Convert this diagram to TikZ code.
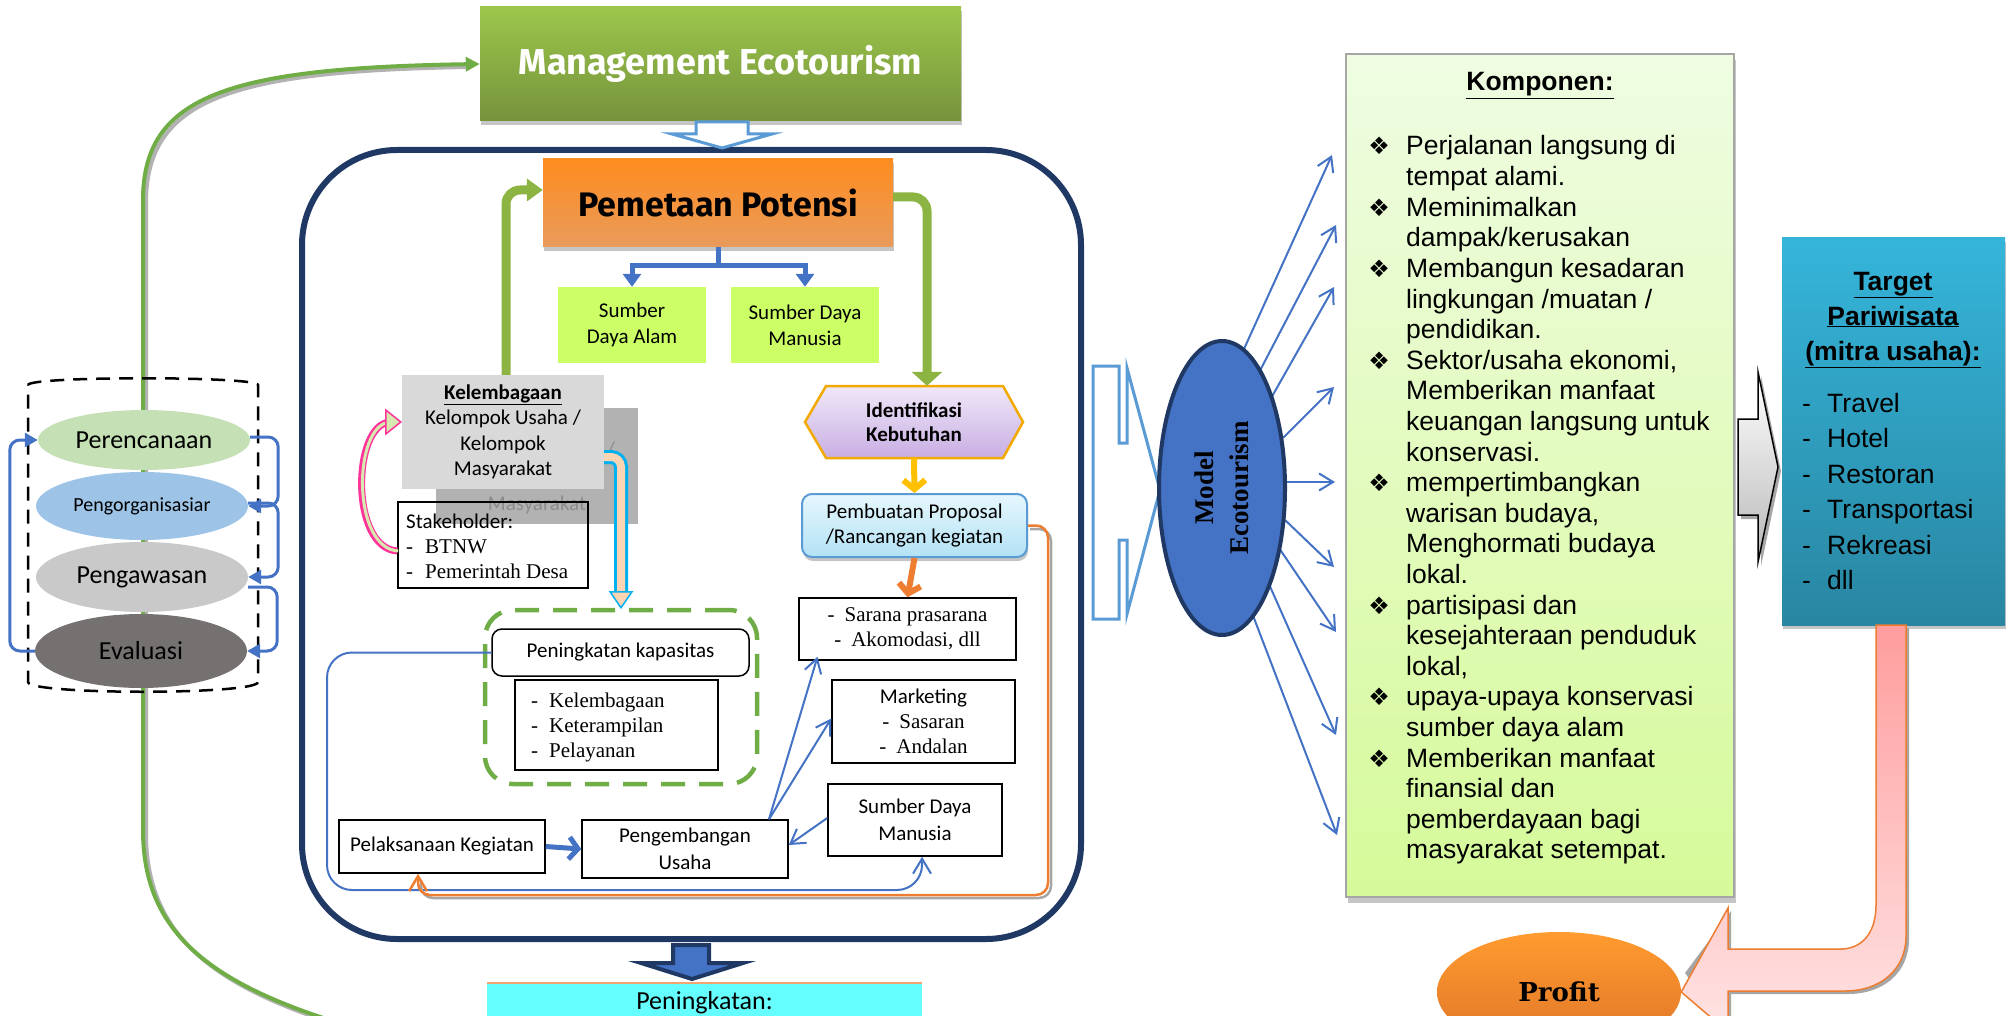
\documentclass[tikz,border=0pt]{standalone}
\usepackage{fontspec}
\setmainfont{Liberation Serif}
\newfontfamily\fcal{Carlito}
\newfontfamily\fari{Liberation Sans}
\newfontfamily\ftms{Liberation Serif}
\newfontfamily\ffira{Fira Sans}
\newfontfamily\fdvs{DejaVu Sans}
\newfontfamily\fdvsr{DejaVu Serif}
\usetikzlibrary{arrows.meta,shadows,shapes.geometric,calc}
\newcommand\fsz[2]{\fontsize{#1}{#2}\selectfont}
\definecolor{navy}{HTML}{1F3864}
\definecolor{cblue}{HTML}{4472C4}
\definecolor{lblue}{HTML}{5B9BD5}
\definecolor{cgreen}{HTML}{70AD47}
\definecolor{gleaf}{HTML}{8CB443}
\definecolor{corange}{HTML}{ED7D31}
\definecolor{cgold}{HTML}{FFC000}
\definecolor{hexline}{HTML}{F2A900}
\definecolor{cyel}{HTML}{CCFF66}
\definecolor{cpink}{HTML}{FF3399}
\definecolor{leafl}{HTML}{D7E8B0}
\definecolor{cyanb}{HTML}{00B0F0}
\definecolor{peach}{HTML}{FBD4B4}
\definecolor{ccyan}{HTML}{66FFFF}
\definecolor{mgT}{HTML}{9CC64B}
\definecolor{mgB}{HTML}{76933C}
\definecolor{pmT}{HTML}{FF8C1F}
\definecolor{pmB}{HTML}{E89B5C}
\definecolor{hxT}{HTML}{F0E8F8}
\definecolor{hxB}{HTML}{C8AEE3}
\definecolor{prT}{HTML}{E6F7FD}
\definecolor{prB}{HTML}{B3E2F5}
\definecolor{kpT}{HTML}{EFFCE2}
\definecolor{kpB}{HTML}{D6FA9A}
\definecolor{tgT}{HTML}{35B5DA}
\definecolor{tgB}{HTML}{2986A2}
\definecolor{pkT}{HTML}{FF9D9D}
\definecolor{pkB}{HTML}{FFE3E3}
\definecolor{pfT}{HTML}{FF9B2F}
\definecolor{pfB}{HTML}{DE7428}
\definecolor{cper}{HTML}{C5E0B4}
\definecolor{corg}{HTML}{9DC3E6}
\definecolor{cpaw}{HTML}{C9C9C9}
\definecolor{ceva}{HTML}{767171}
\tikzset{
  pbox/.style={draw=black, line width=1.5pt, fill=white, inner sep=0pt, align=center},
  cell/.style={ellipse, inner sep=0pt, minimum width=212pt},
  conn/.style={cblue, line width=2pt, -{Straight Barb[length=14pt,width=17pt]}},
  cyc/.style={cblue, line width=3pt, rounded corners=10pt, -{Triangle[length=13pt,width=14pt]}},
  kt/.style={font=\fari\fsz{26.5}{30.6}, anchor=base west, inner sep=0pt},
  kbul/.style={font=\fdvs\fsz{24}{30}, anchor=base, inner sep=0pt},
  tl/.style={font=\fari\fsz{26.5}{35}, anchor=base west, inner sep=0pt},
  tt/.style={font=\fari\bfseries\fsz{26.5}{35}, anchor=base, inner sep=0pt},
  shad/.style={drop shadow={shadow xshift=1pt, shadow yshift=-4pt, fill=black!45}},
}
\newcommand\kl[2]{\node[kt] (k#1) at (1406,{155+30.6*(#1-1)}) {#2};}
\newcommand\kb[1]{\node[kbul] (b#1) at (1379,{155+30.6*(#1-1)}) {❖};}
\begin{document}
\begin{tikzpicture}[x=1pt,y=-1pt]
\useasboundingbox (0,0) rectangle (2009,1016);
\clip (0,0) rectangle (2009,1016);

% big rounded frame
\node[draw=navy, line width=6pt, rounded corners=95pt, minimum width=779pt, minimum height=789pt] (big) at (691.5,544.5) {};

% management
\node[minimum width=481pt, minimum height=114pt, top color=mgT, bottom color=mgB, shad,
      font=\ffira\bfseries\fsz{36}{40}, text=white] (mgmt) at (720.5,64) {Management Ecotourism};
\draw[lblue, line width=3pt, fill=white] (696,122) -- (748,122) -- (748,134) -- (772,134) -- (722,148) -- (672,134) -- (696,134) -- cycle;

% peningkatan box at bottom
\node[fill=ccyan, minimum width=435pt, minimum height=77pt, anchor=north] (pening) at (704.5,983) {};
\draw[corange!70, line width=2.5pt] (pening.north west) -- (pening.north east);
\node[font=\fcal\fsz{26}{30}, anchor=base] (peningt) at (704.5,1009) {Peningkatan:};
\filldraw[fill=cblue, draw=navy, line width=4pt] (673,945) -- (709,945) -- (709,963) -- (743,963) -- (692,979) -- (641,963) -- (673,963) -- cycle;

% green loop on the left
\coordinate (gend) at (487,1060);
\draw[black!30, line width=4pt] (490,1063) .. controls (253,1013) and (146,963) .. (146,833) -- (146,203) .. controls (146,98) and (233,71) .. (468,67);
\draw[cgreen, line width=4pt, -{Triangle[length=14pt,width=14pt]}] (gend) .. controls (250,1010) and (143,960) .. (143,830) -- (143,200) .. controls (143,95) and (230,68) .. (mgmt.west);

% cylinder
\draw[black, line width=2.5pt, dash pattern=on 14pt off 9pt] (28,385) .. controls (28,376) and (258,376) .. (258,385) -- (258,682) .. controls (258,695) and (28,695) .. (28,682) -- cycle;
\node[cell, fill=cper, minimum height=60pt, font=\fcal\fsz{26}{30}] (per) at (144,440) {Perencanaan};
\node[cell, fill=corg, minimum height=68pt, font=\fcal\fsz{20}{24}] (org) at (142,506) {Pengorganisasiar};
\node[cell, fill=cpaw, minimum height=70pt, font=\fcal\fsz{26}{30}] (paw) at (142,577) {Pengawasan};
\node[cell, fill=ceva, minimum height=74pt, font=\fcal\fsz{26}{30}] (eva) at (141,651) {Evaluasi};
\draw[cyc] ([shift={(0,-3)}]per.east) -- ++(28,0) |- (org.east);
\draw[cyc] ([shift={(0,-3)}]org.east) -- ++(30,0) |- (paw.east);
\draw[cyc] ([shift={(0,10)}]paw.east) -- ++(29,0) |- (eva.east);
\draw[cyc] (eva.west) -- ++(-25,0) |- (per.west);

% pemetaan
\node[minimum width=350pt, minimum height=88pt, top color=pmT, bottom color=pmB, shad,
      font=\ffira\bfseries\fsz{34}{38}] (pem) at (718,203) {Pemetaan Potensi};
\node[fill=cyel, minimum width=148pt, minimum height=76pt, align=center, font=\fcal\fsz{21}{26}] (sda) at (632,325) {Sumber\\Daya Alam};
\node[fill=cyel, minimum width=148pt, minimum height=76pt, align=center, font=\fcal\fsz{21}{26}] (sdm1) at (805,325) {Sumber Daya\\Manusia};
\draw[cblue, line width=5pt] (pem.south) -- ++(0,18) coordinate (br);
\draw[cblue, line width=5pt, -{Triangle[length=13pt,width=18pt]}] (br) -| (sda.north);
\draw[cblue, line width=5pt, -{Triangle[length=13pt,width=18pt]}] (br) -| (sdm1.north);

% kelembagaan group
\node[fill=black!30, minimum width=202pt, minimum height=116pt] (ghost) at (537,466) {};
\node[text=black!45, font=\fcal\fsz{21}{25}] (ghostt) at (537,505) {Masyarakat};
\node[text=black!45, font=\fcal\fsz{21}{25}] (ghosts) at (611,450) {/};
\node[fill=black!15, minimum width=202pt, minimum height=114pt, align=center, font=\fcal\fsz{21}{25.5}] (kel) at (503,432)
  {\underline{\textbf{Kelembagaan}}\\Kelompok Usaha /\\Kelompok\\Masyarakat};
\node[draw=black, line width=1.5pt, inner sep=0pt, minimum width=190pt, minimum height=86pt] (stk) at (493,545) {};
\node[anchor=west, align=left, inner sep=0pt, font=\ftms\fsz{21}{25}] (stkt) at (406,546)
  {{\fcal Stakeholder:}\\-\hspace{12pt}BTNW\\-\hspace{12pt}Pemerintah Desa};
\draw[cpink, line width=7pt] ([shift={(0,6)}]stk.west) .. controls (350,548) and (352,425) .. ([shift={(-12,-10)}]kel.west);
\draw[leafl, line width=3pt] ([shift={(1,6)}]stk.west) .. controls (351,548) and (353,425) .. ([shift={(-12,-10)}]kel.west);
\filldraw[fill=leafl, draw=cpink, line width=1.5pt] ([shift={(-16,-22)}]kel.west) -- ([shift={(-1,-10)}]kel.west) -- ([shift={(-16,2)}]kel.west) -- cycle;

% dashed capacity group
\node[draw=cgreen, line width=4.5pt, dash pattern=on 24pt off 14pt, rounded corners=28pt, minimum width=272pt, minimum height=174pt] (dbox) at (621,697) {};
\node[pbox, rounded corners=10pt, minimum width=257pt, minimum height=47pt, font=\fcal\fsz{21}{25}] (kap) at (620.5,652.5) {Peningkatan kapasitas};
\node[pbox, minimum width=203pt, minimum height=90pt] (klist) at (616.5,725) {};
\node[anchor=west, align=left, inner sep=0pt, font=\ftms\fsz{21}{25}] (klistt) at (531,727) {-\hspace{11pt}Kelembagaan\\-\hspace{11pt}Keterampilan\\-\hspace{11pt}Pelayanan};

% peach arrow
\draw[cyanb, line width=14pt, rounded corners=10pt] ([shift={(0,25)}]kel.east) -| ([shift={(0,-14)}]dbox.north);
\draw[peach, line width=8pt, rounded corners=10pt] ([shift={(0,25)}]kel.east) -| ([shift={(0,-14)}]dbox.north);
\filldraw[fill=peach, draw=cyanb, line width=1.5pt] ([shift={(-11,-16)}]dbox.north) -- ([shift={(11,-16)}]dbox.north) -- (dbox.north) -- cycle;

% right column inside frame
\shadedraw[top color=hxT, bottom color=hxB, draw=hexline, line width=2.5pt] (805,422) -- (826,386) -- (1003,386) -- (1023,422) -- (1003,458) -- (826,458) -- cycle;
\node[minimum width=218pt, minimum height=72pt, align=center, font=\fcal\bfseries\fsz{21}{24}] (idk) at (914,422) {Identifikasi\\Kebutuhan};
\node[draw=lblue, line width=2pt, rounded corners=10pt, top color=prT, bottom color=prB, shad, minimum width=225pt, minimum height=63pt, align=center, font=\fcal\fsz{21}{25}] (prop) at (914.5,525.5) {Pembuatan Proposal\\/Rancangan kegiatan};
\node[pbox, minimum width=217pt, minimum height=62pt, font=\ftms\fsz{21}{25}] (sar) at (907.5,629) {-\hspace{10pt}Sarana prasarana\\-\hspace{10pt}Akomodasi, dll};
\node[pbox, minimum width=183pt, minimum height=83pt, font=\ftms\fsz{21}{25}] (mkt) at (923.5,721.5) {{\fcal Marketing}\\-\hspace{10pt}Sasaran\\-\hspace{10pt}Andalan};
\node[pbox, minimum width=174pt, minimum height=72pt, font=\fcal\fsz{21}{26.5}] (sdm2) at (915,820) {Sumber Daya\\Manusia};
\node[pbox, minimum width=206pt, minimum height=58pt, font=\fcal\fsz{21}{26.5}] (peng) at (685,849) {Pengembangan\\Usaha};
\node[pbox, minimum width=206pt, minimum height=53pt, font=\fcal\fsz{21}{25}] (pel) at (442,846.5) {Pelaksanaan Kegiatan};

\draw[cgold, line width=6pt, -{Straight Barb[length=9pt,width=22pt]}] (idk.south) -- (prop.north);
\draw[corange, line width=6pt, -{Straight Barb[length=9pt,width=22pt]}] (prop.south) -- (sar.north);
\draw[cblue, line width=5pt, -{Straight Barb[length=9pt,width=22pt]}] (pel.east) -- (peng.west);
\draw[conn] ([shift={(0,-2)}]sdm2.west) -- ([shift={(0,-4)}]peng.east);
\draw[conn] ([shift={(84,0)}]peng.north) -- ([shift={(-90,-4)}]sar.south);
\draw[conn] ([shift={(84,0)}]peng.north) -- ([shift={(0,-3)}]mkt.west);

% green arrows around pemetaan
\draw[gleaf, line width=9pt, rounded corners=14pt, -{Triangle[length=16pt,width=22pt]}] ([shift={(3,0)}]kel.north) |- ([shift={(0,-13)}]pem.west);
\draw[gleaf, line width=9pt, rounded corners=14pt, -{Triangle[length=14pt,width=30pt]}] ([shift={(0,-6)}]pem.east) -| ([shift={(13,0)}]idk.north);

% loops
\draw[cblue, line width=2pt, rounded corners=25pt, -{Straight Barb[length=15pt,width=18pt]}] (kap.west) -| (327,890) -| ([shift={(7,0)}]sdm2.south);
\draw[black!35, line width=2.5pt, rounded corners=12pt] (1030,529) -- (1051,529) -- (1051,898) -- (421,898) -- (421,880);
\draw[corange, line width=2.5pt, rounded corners=12pt, -{Straight Barb[length=15pt,width=18pt]}] (prop.east) -| (1048,895) -| ([shift={(-24,0)}]pel.south);

% Komponen
\node[draw=black!35, line width=2pt, top color=kpT, bottom color=kpB, minimum width=388pt, minimum height=843pt,
      drop shadow={shadow xshift=2pt, shadow yshift=-6pt, fill=black!45}] (komp) at (1540,475.5) {};
\node[font=\fari\bfseries\fsz{26.5}{30}, anchor=base, inner sep=0pt] (ktitle) at (1540,91) {\underline{Komponen:}};
\kb{1}\kl{1}{Perjalanan langsung di}
\kl{2}{tempat alami.}
\kb{3}\kl{3}{Meminimalkan}
\kl{4}{dampak/kerusakan}
\kb{5}\kl{5}{Membangun kesadaran}
\kl{6}{lingkungan /muatan /}
\kl{7}{pendidikan.}
\kb{8}\kl{8}{Sektor/usaha ekonomi,}
\kl{9}{Memberikan manfaat}
\kl{10}{keuangan langsung untuk}
\kl{11}{konservasi.}
\kb{12}\kl{12}{mempertimbangkan}
\kl{13}{warisan budaya,}
\kl{14}{Menghormati budaya}
\kl{15}{lokal.}
\kb{16}\kl{16}{partisipasi dan}
\kl{17}{kesejahteraan penduduk}
\kl{18}{lokal,}
\kb{19}\kl{19}{upaya-upaya konservasi}
\kl{20}{sumber daya alam}
\kb{21}\kl{21}{Memberikan manfaat}
\kl{22}{finansial dan}
\kl{23}{pemberdayaan bagi}
\kl{24}{masyarakat setempat.}

% light-blue notched arrow and model ellipse
\filldraw[fill=white, draw=lblue, line width=3pt, line join=miter] (1093,366) -- (1119,366) -- (1119,443) -- (1127,443) -- (1127,368) -- (1160,490) -- (1127,614) -- (1127,540) -- (1119,540) -- (1119,619) -- (1093,619) -- cycle;
\coordinate (mc) at (1222,488);
\foreach \sx/\sy/\tx/\ty in {17/-128/-13/-320.5, 32/-106/-9/-250.5, 48/-88/-11/-188.5, 61/-50/-11/-88.5, 63/-6/-10/6.5, 63/32/-11/91.5, 57/60/-9/156.5, 46/94/-9/259.5, 30/125/-8/359.5}
  \draw[conn] ([shift={(\sx,\sy)}]mc) -- ([shift={(\tx,\ty)}]komp.west);
\node[ellipse, draw=navy, line width=4pt, fill=cblue, minimum width=294pt, minimum height=126pt, inner sep=0pt, rotate=90, align=center, font=\ftms\bfseries\fsz{27}{35}] (model) at (mc) {Model\\Ecotourism};

% grey arrow and target
\fill[black!35] (1741,423) -- (1761,423) -- (1761,376) -- (1781,471) -- (1761,566) -- (1761,519) -- (1741,519) -- cycle;
\shadedraw[top color=white, bottom color=black!28, draw=black, line width=1.5pt] (1738,419) -- (1758,419) -- (1758,372) -- (1778,467) -- (1758,562) -- (1758,515) -- (1738,515) -- cycle;
\node[top color=tgT, bottom color=tgB, minimum width=223pt, minimum height=387pt, shad] (tgt) at (1893.5,431.5) {};
\node[tt] (tg1) at (1893,290) {\underline{Target}};
\node[tt] (tg2) at (1893,325) {\underline{Pariwisata}};
\node[tt] (tg3) at (1893,360) {\underline{(mitra usaha):}};
\node[tl] (tl1) at (1802,412) {\makebox[25pt][l]{-}Travel};
\node[tl] (tl2) at (1802,447.5) {\makebox[25pt][l]{-}Hotel};
\node[tl] (tl3) at (1802,483) {\makebox[25pt][l]{-}Restoran};
\node[tl] (tl4) at (1802,518.5) {\makebox[25pt][l]{-}Transportasi};
\node[tl] (tl5) at (1802,554) {\makebox[25pt][l]{-}Rekreasi};
\node[tl] (tl6) at (1802,589.5) {\makebox[25pt][l]{-}dll};

% profit and U-turn arrow
\node[ellipse, top color=pfT, bottom color=pfB, minimum width=244pt, minimum height=120pt, inner sep=0pt, font=\fdvsr\bfseries\fsz{26}{30}] (profit) at (1559,992) {Profit};
\fill[black!35] (1879,628) -- (1879,908) .. controls (1879,938) and (1863,952) .. (1844,952) -- (1731,952) -- (1731,911) -- (1685,973) -- (1731,1035) -- (1731,994) -- (1848,994) .. controls (1883,994) and (1909,973) .. (1909,939) -- (1909,628) -- cycle;
\shadedraw[top color=pkT, bottom color=pkB, draw=corange, line width=1.5pt] (1876,625) -- (1876,905) .. controls (1876,935) and (1860,949) .. (1841,949) -- (1728,949) -- (1728,908) -- (profit.east) -- (1728,1032) -- (1728,991) -- (1845,991) .. controls (1880,991) and (1906,970) .. (1906,936) -- (1906,625) -- cycle;
\end{tikzpicture}
\end{document}
